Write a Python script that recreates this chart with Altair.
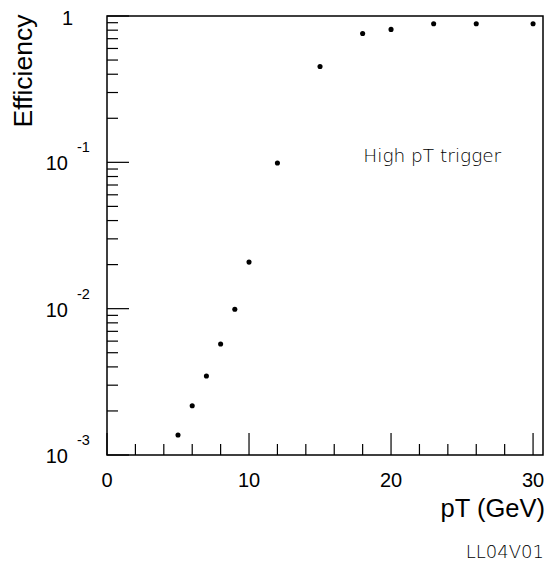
import altair as alt
import pandas as pd

# ---- data ----
pt = [5, 6, 7, 8, 9, 10, 12, 15, 18, 20, 23, 26, 30]
eff = [0.00137, 0.00217, 0.00347, 0.00574, 0.0099, 0.0208, 0.099,
       0.452, 0.759, 0.81, 0.885, 0.885, 0.885]

x_major = [0, 10, 20, 30]
x_major_labels = ["0", "10", "20", "30"]
x_minor = [2, 4, 6, 8, 12, 14, 16, 18, 22, 24, 26, 28]
y_major = [0.001, 0.01, 0.1, 1]
y_minor = [m * 10.0 ** k for k in (-3, -2, -1) for m in range(2, 10)]
y_dec = [0.001, 0.01, 0.1]
y_exp = ["-3", "-2", "-1"]

W, H = 436, 439
FONT = "Liberation Sans"

xscale = alt.Scale(domain=[0, 30.7], nice=False, zero=False)
yscale = alt.Scale(type="log", domain=[0.001, 1], nice=False)

pts = pd.DataFrame({"pt": pt, "eff": eff})
points = alt.Chart(pts).mark_circle(size=26, color="black", opacity=1).encode(
    x=alt.X("pt:Q", scale=xscale, axis=None),
    y=alt.Y("eff:Q", scale=yscale, axis=None),
)

xmaj = alt.Chart(pd.DataFrame({"v": x_major, "lab": x_major_labels}))
xmaj_ticks = xmaj.mark_rule(color="black", strokeWidth=1.2).encode(
    x=alt.X("v:Q", scale=xscale, axis=None), y=alt.value(H), y2=alt.value(H - 22))
xmaj_text = xmaj.mark_text(font=FONT, fontSize=20, baseline="alphabetic", align="center").encode(
    x=alt.X("v:Q", scale=xscale, axis=None), y=alt.value(H + 32), text="lab:N")
xmin_ticks = alt.Chart(pd.DataFrame({"v": x_minor})).mark_rule(color="black", strokeWidth=1.2).encode(
    x=alt.X("v:Q", scale=xscale, axis=None), y=alt.value(H), y2=alt.value(H - 11))

ymaj_ticks = alt.Chart(pd.DataFrame({"v": y_major})).mark_rule(color="black", strokeWidth=1.2).encode(
    y=alt.Y("v:Q", scale=yscale, axis=None), x=alt.value(0), x2=alt.value(22))
ymin_ticks = alt.Chart(pd.DataFrame({"v": y_minor})).mark_rule(color="black", strokeWidth=1.2).encode(
    y=alt.Y("v:Q", scale=yscale, axis=None), x=alt.value(0), x2=alt.value(11))

ydec = alt.Chart(pd.DataFrame({"v": y_dec, "exp": y_exp, "base": ["10"] * 3}))
ydec_base = ydec.mark_text(font=FONT, fontSize=20, align="right", baseline="alphabetic", dy=8).encode(
    y=alt.Y("v:Q", scale=yscale, axis=None), x=alt.value(-39), text="base:N")
ydec_exp = ydec.mark_text(font=FONT, fontSize=14.5, align="left", baseline="alphabetic", dy=-10).encode(
    y=alt.Y("v:Q", scale=yscale, axis=None), x=alt.value(-30), text="exp:N")
yone = alt.Chart(pd.DataFrame({"v": [1], "t": ["1"]})).mark_text(
    font=FONT, fontSize=20, align="right", baseline="alphabetic", dy=9).encode(
    y=alt.Y("v:Q", scale=yscale, axis=None), x=alt.value(-34), text="t:N")

ylabel = alt.Chart(pd.DataFrame({"t": ["Efficiency"]})).mark_text(
    font=FONT, fontSize=26.5, angle=270, align="center", baseline="alphabetic").encode(
    x=alt.value(-75), y=alt.value(55), text="t:N")
xlabel = alt.Chart(pd.DataFrame({"t": ["pT (GeV)"]})).mark_text(
    font=FONT, fontSize=25.5, align="right", baseline="alphabetic").encode(
    x=alt.value(438), y=alt.value(501), text="t:N")
code = alt.Chart(pd.DataFrame({"t": ["LL04V01"]})).mark_text(
    font="DejaVu Sans", fontSize=18, fontWeight=200, align="right", baseline="alphabetic", color="black").encode(
    x=alt.value(437), y=alt.value(542), text="t:N")
note = alt.Chart(pd.DataFrame({"t": ["High pT trigger"], "x": [18.05], "y": [0.1]})).mark_text(
    font="DejaVu Sans", fontSize=18.5, fontWeight=200, align="left", baseline="alphabetic", color="black").encode(
    x=alt.X("x:Q", scale=xscale, axis=None), y=alt.Y("y:Q", scale=yscale, axis=None), text="t:N")

chart = alt.layer(
    ymin_ticks, ymaj_ticks, xmin_ticks, xmaj_ticks, points,
    xmaj_text, ydec_base, ydec_exp, yone, ylabel, xlabel, code, note,
).properties(
    width=W, height=H,
    autosize=alt.AutoSizeParams(type="none"),
    padding={"left": 107, "top": 16, "right": 4, "bottom": 113},
    background="white",
).configure_view(stroke="black", strokeWidth=1.5)

chart.save("out.html", embed_options={"renderer": "svg", "actions": False})
